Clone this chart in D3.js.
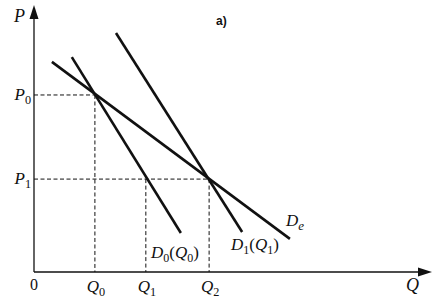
<!DOCTYPE html>
<html>
<head>
<meta charset="utf-8">
<script src="https://cdn.jsdelivr.net/npm/d3@7"></script>
<style>
  body { margin: 0; background: #fff; }
</style>
</head>
<body>
<div id="chart"></div>
<script>
// values, in axis units (0..10 on both axes)
const priceLevels = [
  { name: "P", sub: "0", value: 6.63, reach: 1.53 },
  { name: "P", sub: "1", value: 3.48, reach: 4.40 }
];
const quantityLevels = [
  { name: "Q", sub: "0", value: 1.53, reach: 6.63 },
  { name: "Q", sub: "1", value: 2.81, reach: 3.48 },
  { name: "Q", sub: "2", value: 4.40, reach: 3.48 }
];
const curveDe = [[0.45, 7.87], [6.43, 1.24]];
const curveD0 = [[0.95, 8.05], [3.69, 1.46]];
const curveD1 = [[2.06, 8.95], [5.23, 1.50]];

const width = 442, height = 304;
const x = d3.scaleLinear().domain([0, 10]).range([34, 432]);
const y = d3.scaleLinear().domain([0, 10]).range([272, 5]);

const serif = "Liberation Serif";
const ink = "#111";

const svg = d3.select("#chart").append("svg")
  .attr("width", width)
  .attr("height", height)
  .style("font-family", serif);

// dashed guide lines
function dashed(x1, y1, x2, y2) {
  svg.append("line")
    .attr("x1", x1).attr("y1", y1).attr("x2", x2).attr("y2", y2)
    .attr("stroke", ink)
    .attr("stroke-width", 1)
    .attr("stroke-dasharray", "4,2.5");
}
priceLevels.forEach((d) => dashed(x(0), y(d.value), x(d.reach), y(d.value)));
quantityLevels.forEach((d) => dashed(x(d.value), y(d.reach), x(d.value), y(0)));

// axes
svg.append("line")
  .attr("x1", x(0)).attr("y1", y(0))
  .attr("x2", x(0)).attr("y2", y(10) + 8)
  .attr("stroke", ink).attr("stroke-width", 1.3);
svg.append("line")
  .attr("x1", x(0)).attr("y1", y(0))
  .attr("x2", x(10) - 8).attr("y2", y(0))
  .attr("stroke", ink).attr("stroke-width", 1.3);
svg.append("path")
  .attr("d", `M${x(0)},${y(10)}L${x(0) - 4.5},${y(10) + 14}L${x(0) + 4.5},${y(10) + 14}Z`)
  .attr("fill", ink);
svg.append("path")
  .attr("d", `M${x(10)},${y(0)}L${x(10) - 14},${y(0) - 4.5}L${x(10) - 14},${y(0) + 4.5}Z`)
  .attr("fill", ink);

// demand curves
const line = d3.line().x((d) => x(d[0])).y((d) => y(d[1]));
[curveDe, curveD0, curveD1].forEach((c) => {
  svg.append("path")
    .attr("d", line(c))
    .attr("fill", "none")
    .attr("stroke", ink)
    .attr("stroke-width", 2.6);
});

function subLabel(xPos, yPos, name, sub, anchor, size) {
  const t = svg.append("text")
    .attr("x", xPos)
    .attr("y", yPos)
    .attr("text-anchor", anchor)
    .attr("fill", ink)
    .attr("font-size", size);
  t.append("tspan").attr("font-style", "italic").text(name);
  t.append("tspan").attr("dy", 4).attr("font-size", size * 0.72).text(sub);
  return t;
}

// price labels
priceLevels.forEach((d) => {
  subLabel(x(0) - 3, y(d.value) + 5, d.name, d.sub, "end", 17);
});
// quantity labels
quantityLevels.forEach((d) => {
  subLabel(x(d.value) + 1, y(0) + 20, d.name, d.sub, "middle", 17);
});

svg.append("text").attr("x", x(0)).attr("y", y(0) + 18)
  .attr("text-anchor", "middle").attr("font-size", 16).attr("fill", ink).text("0");
svg.append("text").attr("font-style", "italic").attr("x", 14).attr("y", 22)
  .attr("font-size", 18).attr("fill", ink).text("P");
svg.append("text").attr("font-style", "italic").attr("x", 406).attr("y", 291)
  .attr("font-size", 18).attr("fill", ink).text("Q");
svg.append("text").attr("x", 216).attr("y", 25)
  .style("font-family", "Liberation Sans")
  .attr("font-weight", "bold").attr("font-size", 12).attr("fill", ink).text("a)");

// curve labels
function curveLabel(xPos, yPos, sub, arg) {
  const t = svg.append("text").attr("x", xPos).attr("y", yPos)
    .attr("font-size", 17).attr("fill", ink);
  t.append("tspan").attr("font-style", "italic").text("D");
  t.append("tspan").attr("dy", 4).attr("font-size", 12).text(sub);
  t.append("tspan").attr("dy", -4).text("(");
  t.append("tspan").attr("font-style", "italic").text("Q");
  t.append("tspan").attr("dy", 4).attr("font-size", 12).text(arg);
  t.append("tspan").attr("dy", -4).text(")");
}
curveLabel(151, 258, "0", "0");
curveLabel(231, 250, "1", "1");
const de = svg.append("text").attr("x", 286).attr("y", 226)
  .attr("font-size", 17).attr("fill", ink);
de.append("tspan").attr("font-style", "italic").text("D");
de.append("tspan").attr("font-style", "italic").attr("dy", 4).attr("font-size", 13).text("e");
</script>
</body>
</html>
